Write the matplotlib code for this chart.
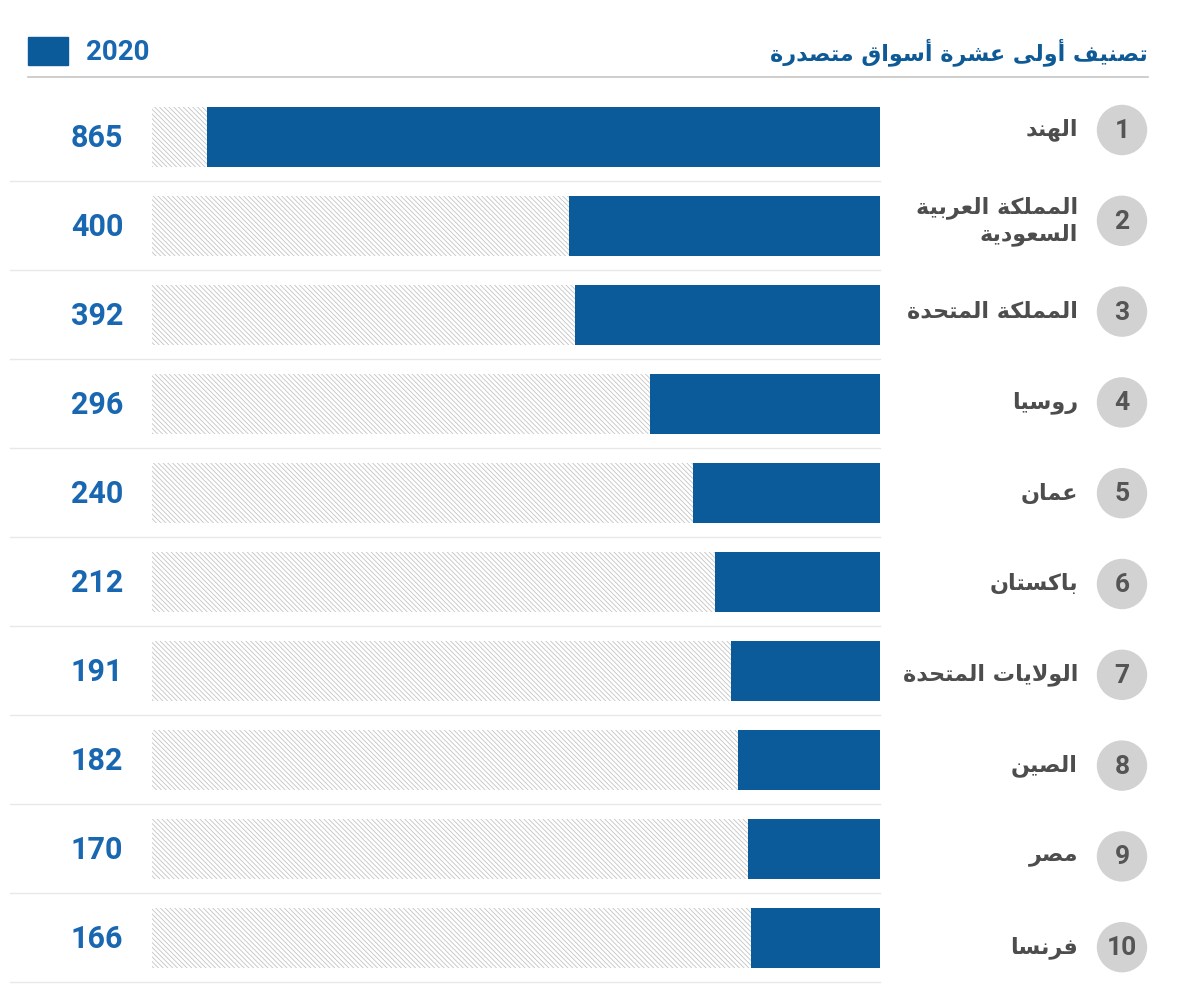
import matplotlib
matplotlib.use("Agg")
import matplotlib.pyplot as plt
from matplotlib.patches import Circle, Rectangle

# datos del grafico
titulo = "تصنيف أولى عشرة أسواق متصدرة"
anio = "2020"
rangos = [1, 2, 3, 4, 5, 6, 7, 8, 9, 10]
paises = ["الهند", "المملكة العربية\nالسعودية", "المملكة المتحدة", "روسيا", "عمان",
          "باكستان", "الولايات المتحدة", "الصين", "مصر", "فرنسا"]
valores = [865, 400, 392, 296, 240, 212, 191, 182, 170, 166]
maximo = 935

# formas contextuales arabes (aislada, final, inicial, media)
FORMAS = {
    'ا': ('\uFE8D', '\uFE8E', None, None),
    'أ': ('\uFE83', '\uFE84', None, None),
    'ب': ('\uFE8F', '\uFE90', '\uFE91', '\uFE92'),
    'ة': ('\uFE93', '\uFE94', None, None),
    'ت': ('\uFE95', '\uFE96', '\uFE97', '\uFE98'),
    'ح': ('\uFEA1', '\uFEA2', '\uFEA3', '\uFEA4'),
    'د': ('\uFEA9', '\uFEAA', None, None),
    'ر': ('\uFEAD', '\uFEAE', None, None),
    'س': ('\uFEB1', '\uFEB2', '\uFEB3', '\uFEB4'),
    'ش': ('\uFEB5', '\uFEB6', '\uFEB7', '\uFEB8'),
    'ص': ('\uFEB9', '\uFEBA', '\uFEBB', '\uFEBC'),
    'ع': ('\uFEC9', '\uFECA', '\uFECB', '\uFECC'),
    'ف': ('\uFED1', '\uFED2', '\uFED3', '\uFED4'),
    'ق': ('\uFED5', '\uFED6', '\uFED7', '\uFED8'),
    'ك': ('\uFED9', '\uFEDA', '\uFEDB', '\uFEDC'),
    'ل': ('\uFEDD', '\uFEDE', '\uFEDF', '\uFEE0'),
    'م': ('\uFEE1', '\uFEE2', '\uFEE3', '\uFEE4'),
    'ن': ('\uFEE5', '\uFEE6', '\uFEE7', '\uFEE8'),
    'ه': ('\uFEE9', '\uFEEA', '\uFEEB', '\uFEEC'),
    'و': ('\uFEED', '\uFEEE', None, None),
    'ى': ('\uFEEF', '\uFEF0', None, None),
    'ي': ('\uFEF1', '\uFEF2', '\uFEF3', '\uFEF4'),
}
LAM_ALEF = {'ا': ('\uFEFB', '\uFEFC'), 'أ': ('\uFEF7', '\uFEF8')}


def dar_forma(linea):
    salida = []
    une_prev = False
    i = 0
    while i < len(linea):
        ch = linea[i]
        if ch == 'ل' and i + 1 < len(linea) and linea[i + 1] in LAM_ALEF:
            iso, fin = LAM_ALEF[linea[i + 1]]
            salida.append(fin if une_prev else iso)
            une_prev = False
            i += 2
            continue
        if ch not in FORMAS:
            salida.append(ch)
            une_prev = False
            i += 1
            continue
        iso, fin, ini, med = FORMAS[ch]
        sig = linea[i + 1] if i + 1 < len(linea) else ''
        une_sig = ini is not None and sig in FORMAS
        if une_prev and une_sig:
            g = med
        elif une_prev:
            g = fin
        elif une_sig:
            g = ini
        else:
            g = iso
        salida.append(g)
        une_prev = ini is not None
        i += 1
    return ''.join(reversed(salida))


def arabe(texto):
    return "\n".join(dar_forma(l) for l in texto.split("\n"))


W, H = 1190, 1006
AZUL = "#0b5b9b"
AZUL_TXT = "#1867b0"
GRIS_TXT = "#4d4d4d"

fila0, paso = 137, 89.0        # filas de barras
fila0_n, paso_n = 130, 90.8    # filas de nombres y circulos

fig = plt.figure(figsize=(W / 100, H / 100), dpi=100)
fig.patch.set_facecolor("white")

# ejes de barras
x0, x1 = 152, 880
ax = fig.add_axes([x0 / W, 0, (x1 - x0) / W, 1])
ax.set_xlim(maximo, 0)
ax.set_ylim((H - fila0) / paso, -fila0 / paso)
ax.axis("off")
pos = list(range(len(valores)))
plt.rcParams['hatch.color'] = "#c4c4c4"
plt.rcParams['hatch.linewidth'] = 0.6
ax.barh(pos, [maximo] * len(valores), height=60 / paso, color="white",
        hatch="\\\\\\\\\\\\\\", edgecolor="#c4c4c4", linewidth=0)
ax.barh(pos, valores, height=60 / paso, color=AZUL, linewidth=0)

# capa de textos
ov = fig.add_axes([0, 0, 1, 1])
ov.set_xlim(0, W)
ov.set_ylim(H, 0)
ov.axis("off")

ov.plot([28, 1148], [77, 77], color="#c6c6c6", lw=1.2)
ov.add_patch(Rectangle((28, 37), 40, 28, color=AZUL))
ov.text(86, 52, anio, color=AZUL_TXT, fontsize=20, fontweight="bold",
        family="Roboto", ha="left", va="center")
ov.text(1148, 52, arabe(titulo), color="#0d5a96", fontsize=16, fontweight="bold",
        family="DejaVu Sans", ha="right", va="center")

for i, (r, p, v) in enumerate(zip(rangos, paises, valores)):
    yb = fila0 + i * paso
    yn = fila0_n + i * paso_n
    ov.plot([10, 880], [yb + 44, yb + 44], color="#e8e8e8", lw=1)
    ov.text(97, yb + 1, str(v), color=AZUL_TXT, fontsize=22, fontweight="bold",
            family="Roboto", ha="center", va="center")
    ov.add_patch(Circle((1122, yn), 24.5, color="#d2d2d2"))
    ov.text(1122, yn + 1, str(r), color="#555555", fontsize=19, fontweight="bold",
            family="Roboto", ha="center", va="center")
    ov.text(1078, yn, arabe(p), color=GRIS_TXT, fontsize=16, fontweight="bold",
            family="DejaVu Sans", ha="right", va="center", linespacing=1.25)

fig.savefig("out.png", dpi=100, facecolor="white")
